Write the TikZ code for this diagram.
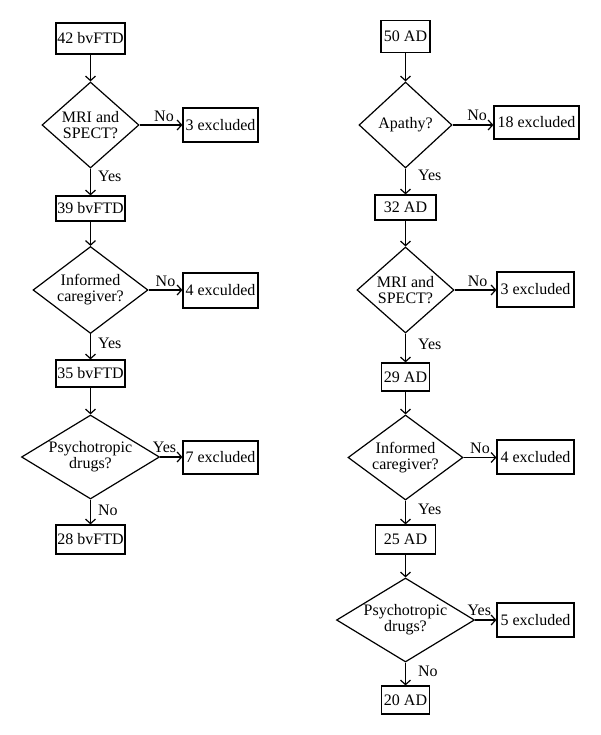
\documentclass[tikz,border=0pt]{standalone}
\usepackage{fontspec}
\setmainfont{Liberation Serif}
\usetikzlibrary{shapes.geometric,arrows.meta}
\begin{document}
\begin{tikzpicture}[x=1pt,y=-1pt,
  every node/.style={font=\fontsize{16}{16}\selectfont},
  box/.style={draw, line width=1.2pt, inner sep=0pt, rectangle},
  dec/.style={draw, line width=1.2pt, diamond, inner sep=0pt, align=center},
  arr/.style={line width=1.2pt, -{Straight Barb[length=4.5pt,width=10pt]}},
  lab/.style={inner sep=2pt},
  yesl/.style={lab, right, xshift=5pt},
  yesr/.style={lab, right, xshift=10pt}
]
\useasboundingbox[fill=white] (0,0) rectangle (600,735);

% ---------------- left column ----------------
\node[box, minimum width=69pt, minimum height=31pt] (L0) at (90.5,38.5) {42 bvFTD};
\node[dec, minimum width=97pt, minimum height=86pt, aspect=1.13] (Ld1) at (90.5,125) {MRI and\\SPECT?};
\node[box, minimum width=75pt, minimum height=34pt] (Lx1) at (220.5,125) {3 excluded};
\node[box, minimum width=69pt, minimum height=25pt] (L1) at (90.5,208.5) {39 bvFTD};
\node[dec, minimum width=115pt, minimum height=87pt, aspect=1.35] (Ld2) at (90.5,290) {Informed\\caregiver?};
\node[box, minimum width=75pt, minimum height=35pt] (Lx2) at (220.5,290.5) {4 exculded};
\node[box, minimum width=69pt, minimum height=27pt] (L2) at (90.5,373.5) {35 bvFTD};
\node[dec, minimum width=138pt, minimum height=84pt, aspect=1.64] (Ld3) at (90.5,457) {Psychotropic\\drugs?};
\node[box, minimum width=75pt, minimum height=33pt] (Lx3) at (220.5,457.5) {7 excluded};
\node[box, minimum width=69pt, minimum height=29pt] (L3) at (90.5,539.5) {28 bvFTD};

\draw[arr] (L0) -- (Ld1);
\draw[arr] (Ld1.east) -- node[lab, above, pos=0.57, yshift=1pt] {No} (Ld1.east -| Lx1.west);
\draw[arr] (Ld1) -- node[yesl, pos=0.28] {Yes} (L1);
\draw[arr] (L1) -- (Ld2);
\draw[arr] (Ld2.east) -- node[lab, above, pos=0.5, yshift=1pt] {No} (Ld2.east -| Lx2.west);
\draw[arr] (Ld2) -- node[yesl, pos=0.35] {Yes} (L2);
\draw[arr] (L2) -- (Ld3);
\draw[arr] (Ld3.east) -- node[lab, above, pos=0.2, yshift=2pt] {Yes} (Ld3.east -| Lx3.west);
\draw[arr] (Ld3) -- node[yesl, pos=0.42] {No} (L3);

% ---------------- right column ----------------
\node[box, minimum width=49pt, minimum height=32pt] (R0) at (405.5,36.5) {50 AD};
\node[dec, minimum width=93pt, minimum height=86pt, aspect=1.08] (Rd1) at (405.5,125) {Apathy?};
\node[box, minimum width=85pt, minimum height=33pt] (Rx1) at (536.5,122.5) {18 excluded};
\node[box, minimum width=61pt, minimum height=25pt] (R1) at (405.5,207.5) {32 AD};
\node[dec, minimum width=97pt, minimum height=86pt, aspect=1.13] (Rd2) at (405.5,290) {MRI and\\SPECT?};
\node[box, minimum width=77pt, minimum height=35pt] (Rx2) at (535.5,289.5) {3 excluded};
\node[box, minimum width=48pt, minimum height=28pt] (R2) at (405.5,377) {29 AD};
\node[dec, minimum width=115pt, minimum height=85pt, aspect=1.35] (Rd3) at (405.5,457.5) {Informed\\caregiver?};
\node[box, minimum width=77pt, minimum height=34pt] (Rx3) at (535.5,457) {4 excluded};
\node[box, minimum width=60pt, minimum height=29pt] (R3) at (405.5,539.5) {25 AD};
\node[dec, minimum width=138pt, minimum height=84pt, aspect=1.64] (Rd4) at (405.5,620) {Psychotropic\\drugs?};
\node[box, minimum width=77pt, minimum height=34pt] (Rx4) at (535.5,620) {5 excluded};
\node[box, minimum width=48pt, minimum height=28pt] (R4) at (405.5,700) {20 AD};

\draw[arr] (R0) -- (Rd1);
\draw[arr] (Rd1.east) -- node[lab, above, pos=0.6, yshift=2pt] {No} (Rd1.east -| Rx1.west);
\draw[arr] (Rd1) -- node[yesr, pos=0.28] {Yes} (R1);
\draw[arr] (R1) -- (Rd2);
\draw[arr] (Rd2.east) -- node[lab, above, pos=0.55, yshift=1pt] {No} (Rd2.east -| Rx2.west);
\draw[arr] (Rd2) -- node[yesr, pos=0.38] {Yes} (R2);
\draw[arr] (R2) -- (Rd3);
\draw[arr] (Rd3.east) -- node[lab, above, pos=0.5, yshift=1pt] {No} (Rd3.east -| Rx3.west);
\draw[arr] (Rd3) -- node[yesr, pos=0.38] {Yes} (R3);
\draw[arr] (R3) -- (Rd4);
\draw[arr] (Rd4.east) -- node[lab, above, pos=0.2, yshift=2pt] {Yes} (Rd4.east -| Rx4.west);
\draw[arr] (Rd4) -- node[yesr, pos=0.38] {No} (R4);
\end{tikzpicture}
\end{document}
